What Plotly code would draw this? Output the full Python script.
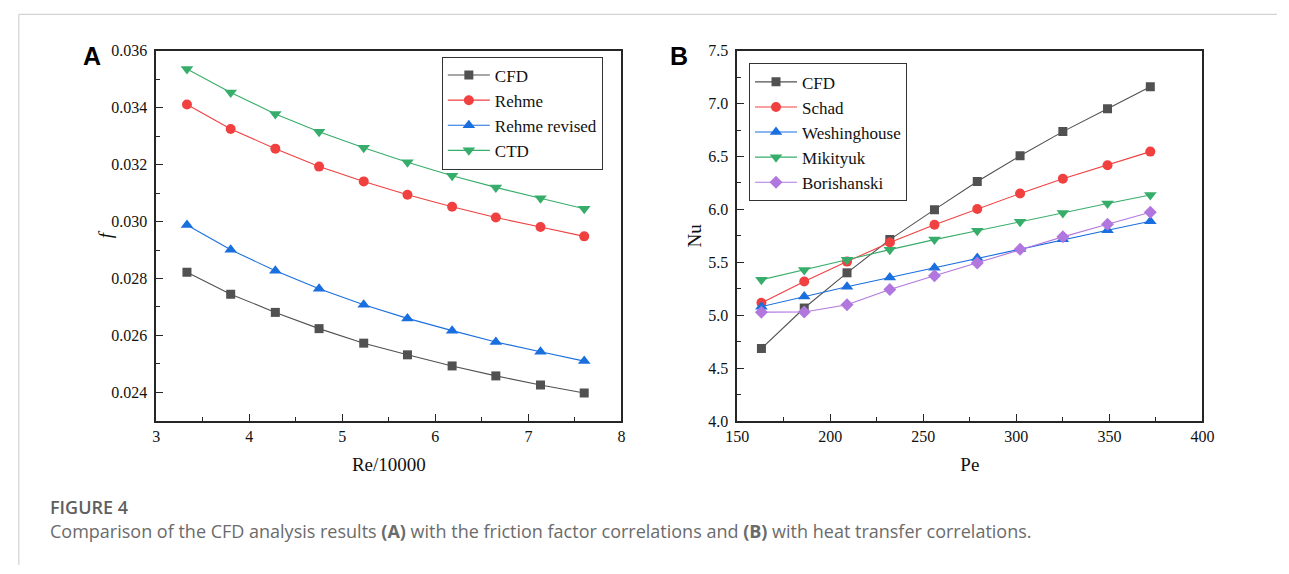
import plotly.graph_objects as go

# ---- Panel A: friction factor vs Re/10000 ----
re_k = [3.33, 3.80, 4.28, 4.75, 5.23, 5.70, 6.18, 6.65, 7.13, 7.60]
f_cfd = [0.02822, 0.02745, 0.02681, 0.02624, 0.02573, 0.02532, 0.02493, 0.02458, 0.02426, 0.02398]
f_rehme = [0.03411, 0.03325, 0.03256, 0.03193, 0.03141, 0.03094, 0.03052, 0.03014, 0.02981, 0.02948]
f_rehme_rev = [0.02988, 0.02901, 0.02827, 0.02764, 0.02708, 0.02660, 0.02617, 0.02577, 0.02543, 0.02510]
f_ctd = [0.03536, 0.03453, 0.03378, 0.03315, 0.03259, 0.03208, 0.03161, 0.03120, 0.03082, 0.03045]

# ---- Panel B: Nusselt number vs Peclet number ----
pe = [163, 186, 209, 232, 256, 279, 302, 325, 349, 372]
nu_cfd = [4.685, 5.067, 5.400, 5.714, 5.997, 6.263, 6.506, 6.735, 6.951, 7.159]
nu_schad = [5.116, 5.318, 5.506, 5.687, 5.854, 6.003, 6.150, 6.290, 6.417, 6.546]
nu_westinghouse = [5.080, 5.177, 5.269, 5.356, 5.448, 5.540, 5.625, 5.717, 5.803, 5.887]
nu_mikityuk = [5.335, 5.427, 5.524, 5.619, 5.714, 5.797, 5.883, 5.966, 6.055, 6.135]
nu_borishanski = [5.028, 5.030, 5.098, 5.242, 5.373, 5.494, 5.622, 5.740, 5.859, 5.972]

W, H = 1289, 574
GRAY, RED, BLUE, GREEN, PURPLE = "#515151", "#F14040", "#1A6FDF", "#37AD6B", "#B177DE"
SERIF = "Liberation Serif, Times New Roman, serif"


def px_x(p):
    return p / W


def px_y(p):
    return 1 - p / H


fig = go.Figure()


def add(x, y, name, color, symbol, size, xa, ya, legend):
    fig.add_trace(go.Scatter(
        x=x, y=y, name=name, mode="lines+markers",
        line=dict(color=color, width=1.1),
        marker=dict(color=color, symbol=symbol, size=size, line=dict(width=0)),
        xaxis=xa, yaxis=ya, legend=legend,
    ))


add(re_k, f_cfd, "CFD", GRAY, "square", 9, "x", "y", "legend")
add(re_k, f_rehme, "Rehme", RED, "circle", 10, "x", "y", "legend")
add(re_k, f_rehme_rev, "Rehme revised", BLUE, "triangle-up", 11, "x", "y", "legend")
add(re_k, f_ctd, "CTD", GREEN, "triangle-down", 11, "x", "y", "legend")

add(pe, nu_cfd, "CFD", GRAY, "square", 9, "x2", "y2", "legend2")
add(pe, nu_schad, "Schad", RED, "circle", 10, "x2", "y2", "legend2")
add(pe, nu_westinghouse, "Weshinghouse", BLUE, "triangle-up", 11, "x2", "y2", "legend2")
add(pe, nu_mikityuk, "Mikityuk", GREEN, "triangle-down", 11, "x2", "y2", "legend2")
add(pe, nu_borishanski, "Borishanski", PURPLE, "diamond", 10, "x2", "y2", "legend2")

axis_common = dict(
    showline=True, linecolor="#262626", linewidth=1.6, mirror=True,
    ticks="inside", ticklen=7, tickwidth=1.3, tickcolor="#262626",
    showgrid=False, zeroline=False,
    tickfont=dict(family=SERIF, size=16, color="#111"),
)
title_font = dict(family=SERIF, size=19, color="#111")
minor_common = dict(ticks="inside", ticklen=4, tickwidth=1.2, tickcolor="#262626", showgrid=False)

y_dom = [px_y(425.5), px_y(44)]
legend_style = dict(xanchor="left", yanchor="top", bgcolor="white",
                    bordercolor="#333", borderwidth=1,
                    font=dict(family=SERIF, size=17, color="#111"),
                    itemwidth=42, tracegroupgap=0, traceorder="normal")

fig.update_layout(
    width=W, height=H,
    margin=dict(l=0, r=0, t=0, b=0),
    paper_bgcolor="white", plot_bgcolor="white",
    font=dict(family=SERIF, color="#111"),
    xaxis=dict(domain=[px_x(147), px_x(621)], range=[3, 8], dtick=1, tick0=3,
               title=dict(text="Re/10000", standoff=14, font=title_font), anchor="y",
               minor=dict(dtick=0.5, tick0=3, **minor_common), **axis_common),
    yaxis=dict(domain=y_dom, range=[0.023, 0.036], dtick=0.002, tick0=0.024,
               tickformat=".3f", anchor="x", ticklabelstandoff=4,
               minor=dict(dtick=0.001, tick0=0.023, **minor_common), **axis_common),
    xaxis2=dict(domain=[px_x(739), px_x(1213)], range=[150, 400], dtick=50, tick0=150,
                title=dict(text="Pe", standoff=14, font=title_font), anchor="y2",
                minor=dict(dtick=25, tick0=150, **minor_common), **axis_common),
    yaxis2=dict(domain=y_dom, range=[4.0, 7.5], dtick=0.5, tick0=4.0,
                tickformat=".1f", title=dict(text="Nu", standoff=2, font=title_font),
                anchor="x2", ticklabelstandoff=4,
                minor=dict(dtick=0.25, tick0=4.0, **minor_common), **axis_common),
    legend=dict(x=px_x(438), y=px_y(50), **legend_style),
    legend2=dict(x=px_x(751), y=px_y(57), **legend_style),
    showlegend=True,
)

# Italic f as the left-panel y-axis title, set close to the tick labels
fig.add_annotation(x=px_x(95), y=px_y(233), xref="paper", yref="paper",
                   text="<i>f</i>", showarrow=False, textangle=-90,
                   font=title_font, xanchor="center", yanchor="middle")

# Panel letters
for letter, xp in (("A", 82), ("B", 680)):
    fig.add_annotation(x=px_x(xp), y=px_y(49), xref="paper", yref="paper",
                       text=f"<b>{letter}</b>", showarrow=False,
                       font=dict(family="Liberation Sans", size=25, color="#000"),
                       xanchor="center", yanchor="middle")

# Caption
fig.add_annotation(x=px_x(37), y=px_y(514), xref="paper", yref="paper",
                   text="FIGURE 4", showarrow=False, xanchor="left", yanchor="middle",
                   font=dict(family="Open Sans", size=18, color="#5f5f5f", weight=600))
fig.add_annotation(x=px_x(37), y=px_y(539), xref="paper", yref="paper",
                   text="Comparison of the CFD analysis results <b>(A)</b> with the friction factor "
                        "correlations and <b>(B)</b> with heat transfer correlations.",
                   showarrow=False, xanchor="left", yanchor="middle",
                   font=dict(family="Open Sans", size=18, color="#6b6b6b"))

# Page frame lines along the top and left edges
fig.add_shape(type="line", xref="paper", yref="paper",
              x0=px_x(7), x1=1, y0=px_y(6.5), y1=px_y(6.5),
              line=dict(color="#c8c8c8", width=1))
fig.add_shape(type="line", xref="paper", yref="paper",
              x0=px_x(7), x1=px_x(7), y0=px_y(6.5), y1=0,
              line=dict(color="#c8c8c8", width=1))

fig.write_html("out.html")
